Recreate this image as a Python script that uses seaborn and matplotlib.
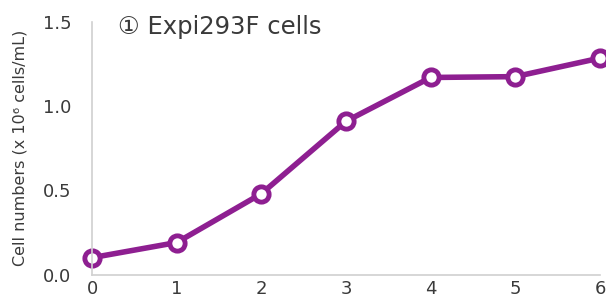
import pandas as pd
import seaborn as sns
import matplotlib.pyplot as plt
from matplotlib.ticker import MultipleLocator

# Expi293F growth curve
days = [0, 1, 2, 3, 4, 5, 6]
cell_numbers = [0.10, 0.19, 0.48, 0.91, 1.17, 1.175, 1.285]

df = pd.DataFrame({"Day": days, "Cells": cell_numbers})

sns.set_style("white")
plt.rcParams['font.family'] = ['DejaVu Sans', 'Noto Sans CJK JP']

purple = "#8E1F91"
grey = "#D0D0D0"
text_col = "#3A3A3A"

fig = plt.figure(figsize=(6.06, 3.0), dpi=100)
ax = fig.add_axes([0.152, 0.085, 0.838, 0.842])

sns.lineplot(data=df, x="Day", y="Cells", ax=ax, color=purple, linewidth=4,
             marker="o", markersize=11, markerfacecolor="white",
             markeredgecolor=purple, markeredgewidth=3.5, clip_on=False)

ax.set_xlim(0, 6)
ax.set_ylim(0, 1.5)
ax.xaxis.set_major_locator(MultipleLocator(1))
ax.yaxis.set_major_locator(MultipleLocator(0.5))
ax.yaxis.set_minor_locator(MultipleLocator(0.25))
ax.yaxis.set_major_formatter(plt.FormatStrFormatter('%.1f'))

for side in ["top", "right"]:
    ax.spines[side].set_visible(False)
for side in ["left", "bottom"]:
    ax.spines[side].set_color(grey)
    ax.spines[side].set_linewidth(1.2)

ax.tick_params(axis="both", which="both", direction="in", color=grey,
               length=5, width=1, labelsize=13, labelcolor=text_col)
ax.tick_params(axis="y", pad=15)
ax.tick_params(axis="x", pad=4)

ax.set_xlabel("")
ax.set_ylabel("Cell numbers (x 10⁶ cells/mL)", fontsize=11.5, color=text_col, labelpad=11)

ax.text(0.051, 0.98, "① Expi293F cells", transform=ax.transAxes,
        fontsize=17.5, color=text_col, va="center", ha="left")

plt.savefig("out.png", dpi=100)
